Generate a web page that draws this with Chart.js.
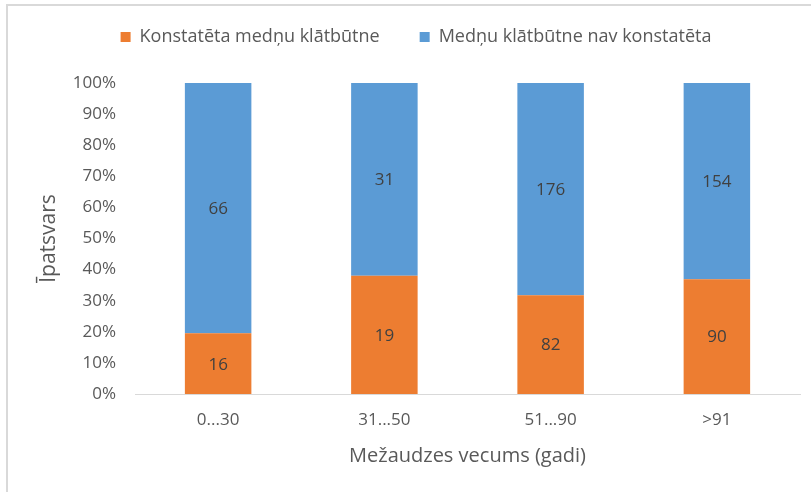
<!DOCTYPE html>
<html>
<head>
<meta charset="utf-8">
<script src="https://cdn.jsdelivr.net/npm/chart.js@4/dist/chart.umd.min.js"></script>
<style>
  html, body { margin: 0; padding: 0; background: #fff; }
  #wrap { width: 811px; height: 492px; position: relative; }
</style>
</head>
<body>
<div id="wrap"><canvas id="chart" width="811" height="492"></canvas></div>
<script>
// DATA
const categories = ['0...30', '31...50', '51...90', '>91'];
const seriesNames = ['Konstatēta medņu klātbūtne', 'Medņu klātbūtne nav konstatēta'];
const presentCounts = [16, 19, 82, 90];
const absentCounts = [66, 31, 176, 154];
const yTicks = [0, 10, 20, 30, 40, 50, 60, 70, 80, 90, 100];

// 100% stacked: share of each group total
const totals = presentCounts.map((v, i) => v + absentCounts[i]);
const presentPct = presentCounts.map((v, i) => v / totals[i] * 100);
const absentPct = absentCounts.map((v, i) => v / totals[i] * 100);

const FONT = "'Open Sans', 'Noto Sans', sans-serif";
const TEXT = '#595959';

// frame around the chart like the original picture
const framePlugin = {
    id: 'frame',
    beforeDraw(chart) {
        const ctx = chart.ctx;
        ctx.save();
        ctx.strokeStyle = '#d9d9d9';
        ctx.lineWidth = 2;
        ctx.beginPath();
        ctx.moveTo(7, 492);
        ctx.lineTo(7, 5);
        ctx.lineTo(811, 5);
        ctx.stroke();
        ctx.restore();
    }
};

// count labels in the middle of each segment
const labelPlugin = {
    id: 'segLabels',
    afterDatasetsDraw(chart) {
        const ctx = chart.ctx;
        const counts = [presentCounts, absentCounts];
        ctx.save();
        ctx.font = '17px ' + FONT;
        ctx.fillStyle = '#404040';
        ctx.textAlign = 'center';
        ctx.textBaseline = 'middle';
        chart.data.datasets.forEach((ds, di) => {
            chart.getDatasetMeta(di).data.forEach((bar, i) => {
                const mid = (bar.y + bar.base) / 2;
                ctx.fillText(String(counts[di][i]), bar.x, mid + 1);
            });
        });
        ctx.restore();
    }
};

// fix legend height so the plot starts where the original does
const legendSpace = {
    id: 'legendSpace',
    beforeInit(chart) {
        const origFit = chart.legend.fit;
        chart.legend.fit = function () {
            origFit.call(this);
            this.height = 95;
        };
    }
};

new Chart(document.getElementById('chart').getContext('2d'), {
    type: 'bar',
    data: {
        labels: categories,
        datasets: [{
            label: seriesNames[0],
            data: presentPct,
            backgroundColor: '#ED7D31',
            borderWidth: 0
        }, {
            label: seriesNames[1],
            data: absentPct,
            backgroundColor: '#5B9BD5',
            borderWidth: 0
        }]
    },
    options: {
        responsive: false,
        animation: false,
        devicePixelRatio: 1,
        layout: { padding: { top: -12, left: 32, right: 11, bottom: 20 } },
        datasets: { bar: { barPercentage: 0.4, categoryPercentage: 1 } },
        plugins: {
            legend: {
                position: 'top',
                labels: {
                    font: { family: FONT, size: 18 },
                    color: TEXT,
                    boxWidth: 10,
                    boxHeight: 10,
                    padding: 40
                }
            },
            tooltip: { enabled: false }
        },
        scales: {
            x: {
                stacked: true,
                grid: { display: false, drawTicks: false },
                border: { color: '#d9d9d9', width: 1 },
                ticks: { font: { family: FONT, size: 17 }, color: TEXT, padding: 16 },
                title: {
                    display: true,
                    text: 'Mežaudzes vecums (gadi)',
                    font: { family: FONT, size: 20 },
                    color: TEXT
                },
                afterFit(scale) { scale.height = 78; }
            },
            y: {
                stacked: true,
                min: 0,
                max: 100,
                afterBuildTicks(scale) { scale.ticks = yTicks.map(v => ({ value: v })); },
                grid: { display: false, drawTicks: false },
                border: { display: false },
                ticks: {
                    font: { family: FONT, size: 17 },
                    color: TEXT,
                    padding: 19,
                    callback: v => v + '%'
                },
                title: {
                    display: true,
                    text: 'Īpatsvars',
                    font: { family: FONT, size: 21 },
                    color: TEXT
                },
                afterFit(scale) { scale.width = 103; }
            }
        }
    },
    plugins: [framePlugin, labelPlugin, legendSpace]
});
</script>
</body>
</html>
